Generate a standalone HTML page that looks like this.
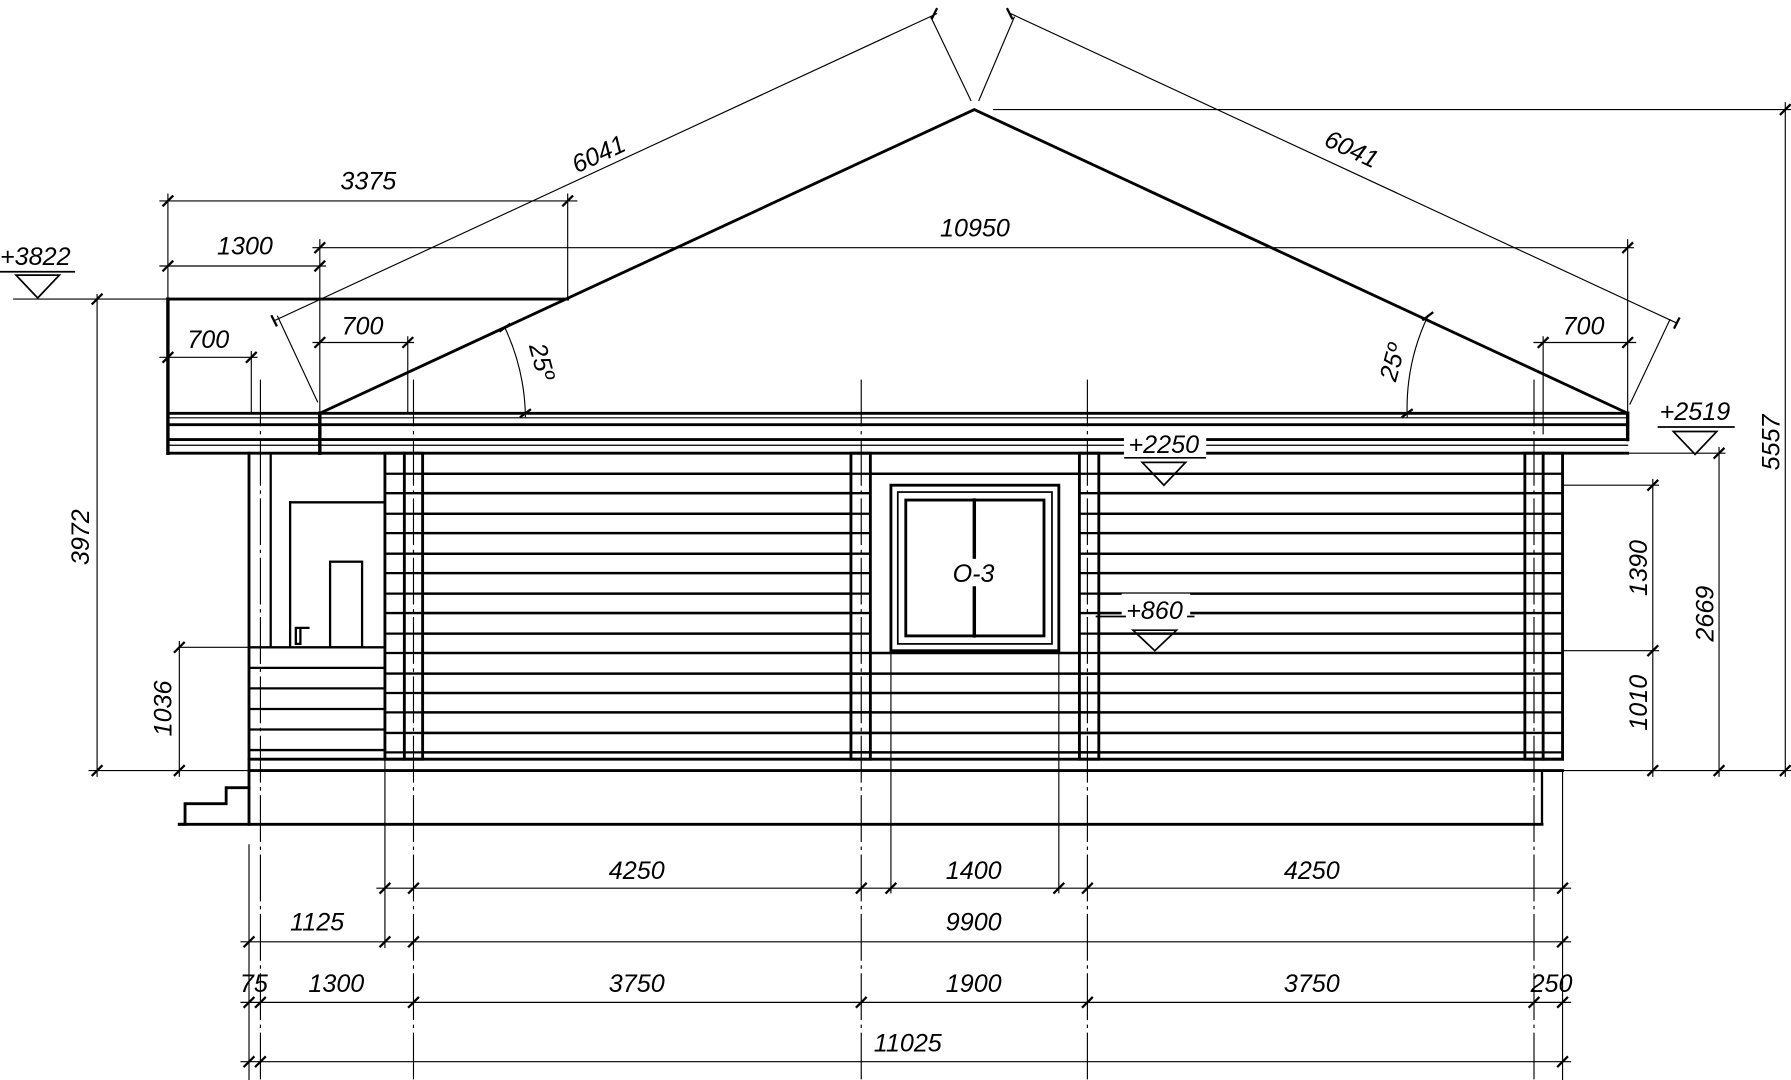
<!DOCTYPE html>
<html><head><meta charset="utf-8"><style>html,body{margin:0;padding:0;background:#fff}svg{display:block}text{font-family:"Liberation Sans",sans-serif;font-style:italic;font-size:22px;fill:#000}</style></head><body>
<svg width="1791" height="1080" viewBox="0 0 1568 946" preserveAspectRatio="none" xmlns="http://www.w3.org/2000/svg">
<g stroke="#000" fill="none" stroke-linecap="square">
<polyline points="280,362 853,96 1425,362" stroke-width="2.5"/>
<line x1="147" y1="262" x2="497" y2="262" stroke-width="2.5"/>
<line x1="147" y1="262" x2="147" y2="397" stroke-width="3"/>
<g stroke-width="2.5">
<line x1="147" y1="362" x2="1425" y2="362"/>
<line x1="147" y1="372" x2="1425" y2="372"/>
<line x1="147" y1="385" x2="1425" y2="385"/>
<line x1="147" y1="397" x2="1425" y2="397"/>
</g>
<line x1="147" y1="366" x2="1425" y2="366" stroke-width="1"/>
<line x1="147" y1="390" x2="1425" y2="390" stroke-width="1"/>
<line x1="280" y1="362" x2="280" y2="397" stroke-width="3"/>
<line x1="1425" y1="362" x2="1425" y2="385" stroke-width="3"/>
<g stroke-width="2.2">
<line x1="370" y1="415" x2="745" y2="415"/><line x1="962" y1="415" x2="1335" y2="415"/>
<line x1="370" y1="432" x2="745" y2="432"/><line x1="962" y1="432" x2="1335" y2="432"/>
<line x1="370" y1="450" x2="745" y2="450"/><line x1="962" y1="450" x2="1335" y2="450"/>
<line x1="370" y1="467" x2="745" y2="467"/><line x1="962" y1="467" x2="1335" y2="467"/>
<line x1="370" y1="485" x2="745" y2="485"/><line x1="962" y1="485" x2="1335" y2="485"/>
<line x1="370" y1="502" x2="745" y2="502"/><line x1="962" y1="502" x2="1335" y2="502"/>
<line x1="370" y1="520" x2="745" y2="520"/><line x1="962" y1="520" x2="1335" y2="520"/>
<line x1="370" y1="537" x2="745" y2="537"/><line x1="962" y1="537" x2="1335" y2="537"/>
<line x1="370" y1="555" x2="745" y2="555"/><line x1="962" y1="555" x2="1335" y2="555"/>
<line x1="370" y1="572" x2="745" y2="572"/><line x1="962" y1="572" x2="1335" y2="572"/>
<line x1="370" y1="590" x2="1335" y2="590"/>
<line x1="370" y1="607" x2="1335" y2="607"/>
<line x1="370" y1="624" x2="1335" y2="624"/>
<line x1="370" y1="642" x2="1335" y2="642"/>
<line x1="370" y1="659" x2="1335" y2="659"/>
<line x1="762" y1="415" x2="945" y2="415"/>
<line x1="762" y1="572" x2="945" y2="572"/>
</g>
<g stroke-width="2.5">
<rect x="337" y="397" width="33" height="268"/>
<rect x="745" y="397" width="17" height="268"/>
<rect x="945" y="397" width="17" height="268"/>
<rect x="1335" y="397" width="33" height="268"/>
<line x1="354" y1="397" x2="354" y2="665"/>
<line x1="1351" y1="397" x2="1351" y2="665"/>
</g>
<g stroke-width="2">
<path d="M337 415h33M337 432h33M337 450h33M337 467h33M337 485h33M337 502h33M337 520h33M337 537h33M337 555h33M337 572h33M337 590h33M337 607h33M337 624h33M337 642h33M337 659h33"/>
<path d="M1335 415h33M1335 432h33M1335 450h33M1335 467h33M1335 485h33M1335 502h33M1335 520h33M1335 537h33M1335 555h33M1335 572h33M1335 590h33M1335 607h33M1335 624h33M1335 642h33M1335 659h33"/>
<path d="M745 415h17M745 432h17M745 450h17M745 467h17M745 485h17M745 502h17M745 520h17M745 537h17M745 555h17M745 572h17M745 590h17M745 607h17M745 624h17M745 642h17M745 659h17"/>
<path d="M945 415h17M945 432h17M945 450h17M945 467h17M945 485h17M945 502h17M945 520h17M945 537h17M945 555h17M945 572h17M945 590h17M945 607h17M945 624h17M945 642h17M945 659h17"/>
</g>
<rect x="780" y="425" width="147" height="145" stroke-width="2.5" fill="#fff"/>
<rect x="786" y="431" width="135" height="133" stroke-width="1.5"/>
<rect x="793" y="438" width="121" height="119" stroke-width="2.5"/>
<line x1="853" y1="438" x2="853" y2="488" stroke-width="3"/>
<line x1="853" y1="515" x2="853" y2="557" stroke-width="3"/>
<line x1="218" y1="665" x2="1368" y2="665" stroke-width="2.5"/>
<line x1="218" y1="675" x2="1368" y2="675" stroke-width="2.5"/>
<line x1="157" y1="722" x2="1350" y2="722" stroke-width="2.5"/>
<line x1="1350" y1="675" x2="1350" y2="722" stroke-width="2"/>
<line x1="218" y1="397" x2="218" y2="722" stroke-width="2.5"/>
<line x1="237" y1="397" x2="237" y2="567" stroke-width="2"/>
<line x1="254" y1="440" x2="254" y2="567" stroke-width="2"/>
<line x1="254" y1="440" x2="337" y2="440" stroke-width="2"/>
<rect x="289" y="492" width="28" height="75" stroke-width="2"/>
<path d="M259 550v14h4v-14zM262 550h8" stroke-width="2"/>
<path d="M218 567h119M218 585h119M218 603h119M218 621h119M218 639h119M218 657h119" stroke-width="2"/>
<path d="M218 690h-20v14h-36v18h-5" stroke-width="2.5"/>
<g stroke-width="1">
<line x1="228" y1="333" x2="228" y2="946" stroke-dasharray="40 5 2 5"/>
<line x1="362" y1="333" x2="362" y2="946" stroke-dasharray="40 5 2 5"/>
<line x1="754" y1="333" x2="754" y2="946" stroke-dasharray="40 5 2 5"/>
<line x1="952" y1="333" x2="952" y2="946" stroke-dasharray="40 5 2 5"/>
<line x1="1343" y1="333" x2="1343" y2="946" stroke-dasharray="40 5 2 5"/>
<line x1="1368" y1="675" x2="1368" y2="946"/>
<line x1="218" y1="740" x2="218" y2="946"/>
<line x1="337" y1="665" x2="337" y2="830"/>
<line x1="780" y1="570" x2="780" y2="782"/>
<line x1="927" y1="570" x2="927" y2="782"/>
<line x1="330" y1="778" x2="1375" y2="778"/>
<line x1="211" y1="825" x2="1375" y2="825"/>
<line x1="211" y1="878" x2="1375" y2="878"/>
<line x1="211" y1="930" x2="1375" y2="930"/>
<line x1="85" y1="262" x2="147" y2="262"/>
<line x1="85" y1="258" x2="85" y2="680"/>
<line x1="78" y1="675" x2="218" y2="675"/>
<line x1="157" y1="567" x2="218" y2="567"/>
<line x1="157" y1="562" x2="157" y2="680"/>
<line x1="12" y1="262" x2="85" y2="262"/>
<line x1="140" y1="176" x2="505" y2="176"/>
<line x1="140" y1="233" x2="285" y2="233"/>
<line x1="140" y1="313" x2="225" y2="313"/>
<line x1="274" y1="300" x2="362" y2="300"/>
<line x1="147" y1="170" x2="147" y2="262"/>
<line x1="280" y1="210" x2="280" y2="362"/>
<line x1="497" y1="170" x2="497" y2="262"/>
<line x1="220" y1="308" x2="220" y2="362"/>
<line x1="357" y1="295" x2="357" y2="362"/>
<line x1="274" y1="217" x2="1430" y2="217"/>
<line x1="1425" y1="210" x2="1425" y2="362"/>
<line x1="1343" y1="300" x2="1432" y2="300"/>
<line x1="1351" y1="295" x2="1351" y2="380"/>
<line x1="240" y1="281" x2="820" y2="12"/>
<line x1="885" y1="12" x2="1468" y2="283"/>
<line x1="243" y1="277" x2="278" y2="352"/>
<line x1="815" y1="15" x2="850" y2="88"/>
<line x1="888" y1="15" x2="857" y2="88"/>
<line x1="1462" y1="280" x2="1427" y2="354"/>
<path d="M442 287 A190 190 0 0 1 460 365"/>
<path d="M1250 277 A190 190 0 0 0 1232 365"/>
<line x1="870" y1="96" x2="1568" y2="96"/>
<line x1="1563" y1="90" x2="1563" y2="680"/>
<line x1="1368" y1="675" x2="1568" y2="675"/>
<line x1="1425" y1="397" x2="1510" y2="397"/>
<line x1="1505" y1="392" x2="1505" y2="680"/>
<line x1="1368" y1="425" x2="1452" y2="425"/>
<line x1="1368" y1="570" x2="1452" y2="570"/>
<line x1="1447" y1="420" x2="1447" y2="680"/>
</g>
<g stroke-width="2">
<path d="M333 782l8-8M358 782l8-8M750 782l8-8M776 782l8-8M923 782l8-8M948 782l8-8M1364 782l8-8"/>
<path d="M214 829l8-8M333 829l8-8M358 829l8-8M1364 829l8-8"/>
<path d="M214 882l8-8M224 882l8-8M358 882l8-8M750 882l8-8M948 882l8-8M1339 882l8-8M1364 882l8-8"/>
<path d="M214 934l8-8M224 934l8-8M1364 934l8-8"/>
<path d="M81 266l8-8M81 679l8-8M153 571l8-8M153 679l8-8"/>
<path d="M143 180l8-8M493 180l8-8M143 237l8-8M276 237l8-8M143 317l8-8M216 317l8-8M276 304l8-8M353 304l8-8"/>
<path d="M276 221l8-8M1421 221l8-8M1347 304l8-8M1421 304l8-8"/>
<path d="M1559 100l8-8M1559 679l8-8M1501 401l8-8M1501 679l8-8M1443 429l8-8M1443 574l8-8M1443 679l8-8"/>
<path d="M242 285l-4-8M816 16l4-8M886 16l-4-8M1466 287l4-8M438 290l8-6M456 365l8-6M1246 280l8-6M1228 365l8-6"/>
</g>
<rect x="984" y="376" width="72" height="24" fill="#fff" stroke="none"/>
<rect x="982" y="520" width="60" height="24" fill="#fff" stroke="none"/>
<g stroke-width="1.5">
<path d="M14 241h38l-19 20z"/>
<path d="M1465 378h38l-19 20z"/>
<path d="M1000 405h38l-19 20z"/>
<path d="M992 552h38l-19 18z"/>
<line x1="0" y1="238" x2="65" y2="238"/>
<line x1="1452" y1="374" x2="1518" y2="374"/>
<line x1="985" y1="401" x2="1055" y2="401"/>
<line x1="960" y1="540" x2="985" y2="540"/>
<line x1="1040" y1="540" x2="1045" y2="540"/>
</g>
</g>
<text x="0" y="232">+3822</text>
<text x="1453" y="368">+2519</text>
<text x="988" y="397">+2250</text>
<text x="986" y="542">+860</text>
<text x="834" y="510">O-3</text>
<text x="298" y="166">3375</text>
<text x="190" y="223">1300</text>
<text x="164" y="305">700</text>
<text x="299" y="293">700</text>
<text x="823" y="207">10950</text>
<text x="1368" y="293">700</text>
<text x="533" y="770">4250</text>
<text x="828" y="770">1400</text>
<text x="1124" y="770">4250</text>
<text x="254" y="815">1125</text>
<text x="828" y="815">9900</text>
<text x="210" y="869">75</text>
<text x="270" y="869">1300</text>
<text x="533" y="869">3750</text>
<text x="828" y="869">1900</text>
<text x="1124" y="869">3750</text>
<text x="1340" y="869">250</text>
<text x="765" y="921">11025</text>
<text transform="translate(78,495) rotate(-90)">3972</text>
<text transform="translate(150,645) rotate(-90)">1036</text>
<text transform="translate(1442,522) rotate(-90)">1390</text>
<text transform="translate(1442,640) rotate(-90)">1010</text>
<text transform="translate(1500,562) rotate(-90)">2669</text>
<text transform="translate(1558,412) rotate(-90)">5557</text>
<text transform="translate(505,152) rotate(-25)">6041</text>
<text transform="translate(1158,127) rotate(25)">6041</text>
<text transform="translate(463,303) rotate(75)">25º</text>
<text transform="translate(1222,335) rotate(-75)">25º</text>
</svg>
</body></html>
